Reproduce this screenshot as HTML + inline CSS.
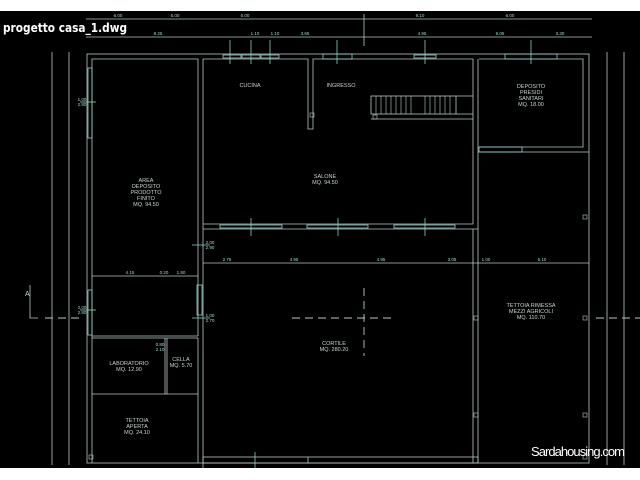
<!DOCTYPE html>
<html><head><meta charset="utf-8"><style>
html,body{margin:0;padding:0;background:#fff;width:640px;height:480px;overflow:hidden}
svg{display:block}
.t{font-family:"Liberation Sans",sans-serif;font-size:5.5px;fill:#c8d2d2;text-anchor:middle}
.d{font-family:"Liberation Sans",sans-serif;font-size:4.5px;fill:#a8d8d0;text-anchor:middle}
</style></head><body>
<svg width="640" height="480" viewBox="0 0 640 480" xmlns="http://www.w3.org/2000/svg">
<rect x="0" y="0" width="640" height="480" fill="#fff"/>
<rect x="0" y="11" width="640" height="457" fill="#000"/>
<g stroke="#b8c8c8" stroke-width="0.8" fill="none">
<rect x="87" y="54" width="502" height="409"/>
<polyline points="92,463 92,59 198,59 198,336"/>
<line x1="203" y1="59" x2="203" y2="468"/>
<line x1="198" y1="336" x2="92" y2="336"/>
<line x1="92" y1="338" x2="198" y2="338"/>
<line x1="198" y1="338" x2="198" y2="463"/>
<line x1="92" y1="394" x2="198" y2="394"/>
<line x1="165" y1="338" x2="165" y2="394"/>
<line x1="167" y1="338" x2="167" y2="394"/>
<polyline points="203,59 308,59 308,129 313,129 313,59 473,59 473,224 203,224"/>
<line x1="203" y1="229" x2="478" y2="229"/>
<line x1="478" y1="59" x2="478" y2="463"/>
<line x1="473" y1="229" x2="473" y2="463"/>
<rect x="371" y="96" width="85" height="18"/>
<polyline points="456,96 473,96"/><polyline points="456,114 473,114"/>
<polyline points="371,119 473,119"/>
<polyline points="479,59 583,59 583,147 479,147"/>
<line x1="478" y1="152" x2="589" y2="152"/>
<rect x="203" y="457" width="275" height="6"/>
<line x1="308" y1="457" x2="308" y2="463"/>
<line x1="86" y1="19" x2="592" y2="19"/>
<line x1="86" y1="37" x2="592" y2="37"/>
<line x1="52" y1="52" x2="52" y2="465"/>
<line x1="69" y1="52" x2="69" y2="465"/>
<line x1="607" y1="52" x2="607" y2="465"/>
<line x1="624" y1="52" x2="624" y2="465"/>
<line x1="92" y1="276" x2="198" y2="276"/>
<line x1="203" y1="263" x2="589" y2="263"/>
<line x1="364" y1="14" x2="364" y2="46"/>
<polyline points="30,285 30,318 38,318"/>
</g>
<g stroke="#b8c8c8" stroke-width="0.9" stroke-dasharray="8,5">
<line x1="45" y1="318" x2="80" y2="318"/>
<line x1="292" y1="318" x2="392" y2="318"/>
<line x1="364" y1="288" x2="364" y2="356"/>
<line x1="596" y1="318" x2="640" y2="318"/>
</g>
<g stroke="#b8c8c8" stroke-width="0.6">
<line x1="376" y1="96" x2="376" y2="114"/><line x1="381" y1="96" x2="381" y2="114"/><line x1="386" y1="96" x2="386" y2="114"/><line x1="391" y1="96" x2="391" y2="114"/><line x1="396" y1="96" x2="396" y2="114"/><line x1="401" y1="96" x2="401" y2="114"/><line x1="406" y1="96" x2="406" y2="114"/><line x1="411" y1="96" x2="411" y2="114"/><line x1="425" y1="96" x2="425" y2="114"/><line x1="430" y1="96" x2="430" y2="114"/><line x1="435" y1="96" x2="435" y2="114"/><line x1="440" y1="96" x2="440" y2="114"/><line x1="445" y1="96" x2="445" y2="114"/><line x1="450" y1="96" x2="450" y2="114"/>
</g>
<g stroke="#8fd0c8" stroke-width="0.8" fill="none">
<rect x="223" y="55" width="18" height="3"/><rect x="242" y="55" width="18" height="3"/><rect x="261" y="55" width="18" height="3"/>
<rect x="323" y="54" width="29" height="5"/><rect x="414" y="55" width="22" height="3"/>
<rect x="505" y="54" width="52" height="5"/>
<rect x="88" y="68" width="4" height="70"/><rect x="88" y="290" width="4" height="45"/>
<rect x="197" y="285" width="5" height="30"/>
<rect x="220" y="225" width="62" height="3"/><rect x="307" y="225" width="61" height="3"/><rect x="394" y="225" width="61" height="3"/>
<rect x="479" y="147" width="43" height="5"/>
<line x1="230" y1="40" x2="230" y2="64"/><line x1="251" y1="40" x2="251" y2="64"/><line x1="270" y1="40" x2="270" y2="64"/>
<line x1="337" y1="40" x2="337" y2="64"/><line x1="425" y1="40" x2="425" y2="64"/><line x1="531" y1="40" x2="531" y2="64"/>
<line x1="251" y1="218" x2="251" y2="236"/><line x1="338" y1="218" x2="338" y2="236"/><line x1="425" y1="218" x2="425" y2="236"/>
<line x1="80" y1="102" x2="96" y2="102"/><line x1="80" y1="310" x2="96" y2="310"/><line x1="192" y1="245" x2="210" y2="245"/><line x1="192" y1="318" x2="210" y2="318"/>
<line x1="255" y1="452" x2="255" y2="468"/>
</g>
<g stroke="#b8c8c8" stroke-width="0.6" fill="none">
<rect x="310" y="113" width="4" height="4"/><rect x="373" y="115" width="4" height="4"/><rect x="583" y="215" width="4" height="4"/>
<rect x="474" y="316" width="4" height="4"/><rect x="583" y="316" width="4" height="4"/>
<rect x="474" y="413" width="4" height="4"/><rect x="583" y="413" width="4" height="4"/>
<rect x="583" y="455" width="4" height="4"/><rect x="89" y="455" width="4" height="4"/>
</g>
<g class="d">
<text x="118" y="17">6.00</text><text x="175" y="17">6.00</text><text x="245" y="17">6.00</text><text x="420" y="17">9.10</text><text x="510" y="17">6.00</text>
<text x="158" y="35">8.25</text><text x="255" y="35">1.10</text><text x="275" y="35">1.10</text><text x="305" y="35">3.65</text><text x="422" y="35">4.95</text><text x="500" y="35">6.05</text><text x="560" y="35">3.30</text>
<text x="130" y="274">4.15</text><text x="164" y="274">0.20</text><text x="181" y="274">1.80</text>
<text x="227" y="261">2.75</text><text x="294" y="261">4.95</text><text x="381" y="261">4.95</text><text x="452" y="261">3.05</text><text x="486" y="261">1.00</text><text x="542" y="261">5.10</text>
<text x="210" y="244">2.00</text><text x="210" y="249">2.90</text><text x="210" y="317">1.00</text><text x="210" y="322">2.70</text>
<text x="82" y="101">1.00</text><text x="82" y="106">2.80</text><text x="82" y="309">2.00</text><text x="82" y="314">2.80</text>
<text x="160" y="346">0.80</text><text x="160" y="351">2.10</text>
</g>
<text x="25" y="296" style="font-family:'Liberation Sans',sans-serif;font-size:7px;fill:#c8d2d2">A</text>
<g class="t">
<text x="250" y="87">CUCINA</text><text x="341" y="87">INGRESSO</text>
<text x="531" y="88">DEPOSITO</text><text x="531" y="94">PRESIDI</text><text x="531" y="100">SANITARI</text><text x="531" y="106">MQ. 18.00</text>
<text x="325" y="178">SALONE</text><text x="325" y="184">MQ. 94.50</text>
<text x="146" y="182">AREA</text><text x="146" y="188">DEPOSITO</text><text x="146" y="194">PRODOTTO</text><text x="146" y="200">FINITO</text><text x="146" y="206">MQ. 94.50</text>
<text x="531" y="307">TETTOIA RIMESSA</text><text x="531" y="313">MEZZI AGRICOLI</text><text x="531" y="319">MQ. 110.70</text>
<text x="334" y="345">CORTILE</text><text x="334" y="351">MQ. 280.20</text>
<text x="129" y="365">LABORATORIO</text><text x="129" y="371">MQ. 12.90</text>
<text x="181" y="361">CELLA</text><text x="181" y="367">MQ. 5.70</text>
<text x="137" y="422">TETTOIA</text><text x="137" y="428">APERTA</text><text x="137" y="434">MQ. 24.10</text>
</g>
<text x="3" y="32" textLength="124" lengthAdjust="spacingAndGlyphs" style="font-family:'DejaVu Sans','Liberation Sans',sans-serif;font-weight:bold;font-size:12px;fill:#fff">progetto casa_1.dwg</text>
<text x="531" y="456" style="font-family:'Liberation Sans',sans-serif;font-size:13px;fill:#fff" textLength="94">Sardahousing.com</text>
</svg>
</body></html>
